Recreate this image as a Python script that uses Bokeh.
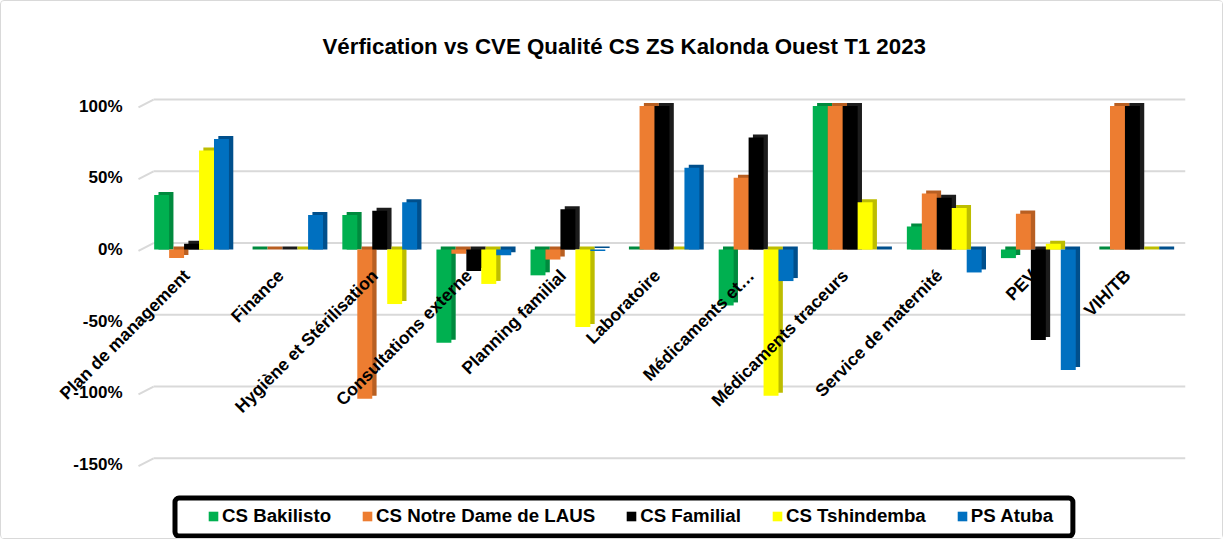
from bokeh.plotting import figure
from bokeh.models import (ColumnDataSource, Range1d, FixedTicker,
                          NumeralTickFormatter, Legend, LegendItem, LabelSet,
                          BoxAnnotation)
from bokeh.transform import dodge
from bokeh.core.properties import value
from bokeh.embed import file_html
from bokeh.resources import INLINE
import math

categories = ["Plan de management", "Finance", "Hygiène et Stérilisation",
              "Consultations externe", "Planning familial", "Laboratoire",
              "Médicaments et…", "Médicaments traceurs", "Service de maternité",
              "PEV", "VIH/TB"]

series_names = ["CS Bakilisto", "CS Notre Dame de LAUS", "CS Familial",
                "CS Tshindemba", "PS Atuba"]

bakilisto = [0.38, 0.0, 0.24, -0.65, -0.18, 0.0, -0.39, 1.00, 0.16, -0.06, 0.0]
notre_dame = [-0.06, 0.0, -1.04, -0.03, -0.07, 1.00, 0.50, 1.00, 0.39, 0.25, 1.00]
familial = [0.04, 0.0, 0.27, -0.15, 0.28, 1.00, 0.78, 1.00, 0.36, -0.63, 1.00]
tshindemba = [0.69, 0.0, -0.38, -0.24, -0.54, 0.0, -1.02, 0.33, 0.29, 0.04, 0.0]
atuba = [0.77, 0.24, 0.33, -0.04, -0.01, 0.57, -0.22, 0.0, -0.16, -0.84, 0.0]

y_ticks = [-1.5, -1.0, -0.5, 0.0, 0.5, 1.0]

front_colors = ["#00B050", "#ED7D31", "#000000", "#FFFF00", "#0070C0"]
side_colors = ["#008A3E", "#B85F22", "#1C1C1C", "#BDBD00", "#004F8C"]

FONT = "Liberation Sans"
n_cat = len(categories)
centers = [i + 0.5 for i in range(n_cat)]
x_end = n_cat + 0.064

p = figure(width=1223, height=539, output_backend="svg", toolbar_location=None,
           x_range=Range1d(-1.063, x_end),
           y_range=Range1d(-2.028, 1.143),
           x_axis_location=None,
           min_border_left=43, min_border_right=39,
           min_border_top=84, min_border_bottom=0)
p.styles = {"border": "1px solid #D9D9D9", "border-radius": "4px"}
p.outline_line_color = None
p.background_fill_color = "white"
p.border_fill_color = "white"

p.title.text = "Vérfication vs CVE Qualité CS ZS Kalonda Ouest T1 2023"
p.title.align = "left"
p.title.offset = 278
p.title.text_font = FONT
p.title.text_font_size = "22.3px"
p.title.text_font_style = "bold"
p.title.text_color = "#000000"
p.title.standoff = 54

p.xgrid.grid_line_color = None
p.ygrid.grid_line_color = None

# 3-D style gridlines: a short receding diagonal, then the back-wall line
wall_dx = 0.16
wall_dy = 0.045
grid_front = [t - 0.01 for t in y_ticks]
grid_back = [t + wall_dy for t in y_ticks]
p.segment(x0=-0.064, x1=-0.064 + wall_dx, y0=grid_front, y1=grid_back,
          line_color="#D9D9D9", line_width=2)
p.segment(x0=-0.064 + wall_dx, x1=x_end, y0=grid_back, y1=grid_back,
          line_color="#D9D9D9", line_width=2)

yax = p.yaxis[0]
yax.ticker = FixedTicker(ticks=y_ticks)
yax.formatter = NumeralTickFormatter(format="0%")
yax.axis_line_color = None
yax.major_tick_line_color = None
yax.minor_tick_line_color = None
yax.major_tick_in = 0
yax.major_tick_out = 0
yax.major_label_standoff = -78
yax.major_label_text_font = FONT
yax.major_label_text_font_size = "17px"
yax.major_label_text_font_style = "bold"
yax.major_label_text_color = "#000000"

all_series = [bakilisto, notre_dame, familial, tshindemba, atuba]
n_series = len(all_series)
bar_w = 0.159
depth_x = 0.046
depth_y = 0.021

legend_items = []
for i, vals in enumerate(all_series):
    off = (i - (n_series - 1) / 2) * bar_w
    back_top = [v + depth_y if v >= 0 else depth_y for v in vals]
    back_bot = [0.0 if v >= 0 else v + depth_y for v in vals]
    src = ColumnDataSource(dict(xc=centers, val=vals,
                                btop=back_top, bbot=back_bot))
    p.vbar(x=dodge("xc", off + depth_x), top="btop", bottom="bbot",
           width=bar_w, fill_color=side_colors[i], line_color=None, source=src)
    r = p.vbar(x=dodge("xc", off), top="val", bottom=0,
               width=bar_w, fill_color=front_colors[i], line_color=None, source=src)
    legend_items.append(LegendItem(label=series_names[i], renderers=[r]))

lab_src = ColumnDataSource(dict(xc=centers, y=[0.0] * n_cat, cat=categories))
labels = LabelSet(x="xc", y="y", text="cat", source=lab_src, angle=math.pi / 4,
                  text_align="right", text_baseline="top", y_offset=-16, x_offset=-12,
                  text_font=value(FONT), text_font_size=value("17.5px"),
                  text_font_style=value("bold"), text_color=value("#000000"))
p.add_layout(labels)

# legend frame (thick black rounded border)
box = BoxAnnotation(left=0.324, right=9.867, top=-1.732, bottom=-1.997,
                    fill_color="white", fill_alpha=1.0,
                    line_color="#000000", line_width=5, line_alpha=1.0,
                    border_radius=4)
p.add_layout(box)

legend = Legend(items=legend_items, orientation="horizontal", location=(163, 13))
legend.border_line_color = None
legend.background_fill_alpha = 0.0
legend.padding = 0
legend.spacing = 30
legend.margin = 0
legend.glyph_width = 12
legend.glyph_height = 12
legend.label_standoff = 3
legend.label_text_font = FONT
legend.label_text_font_size = "18.7px"
legend.label_text_font_style = "bold"
legend.label_text_color = "#000000"
legend.label_height = 20
p.add_layout(legend)

open("out.html", "w").write(file_html(p, INLINE))
